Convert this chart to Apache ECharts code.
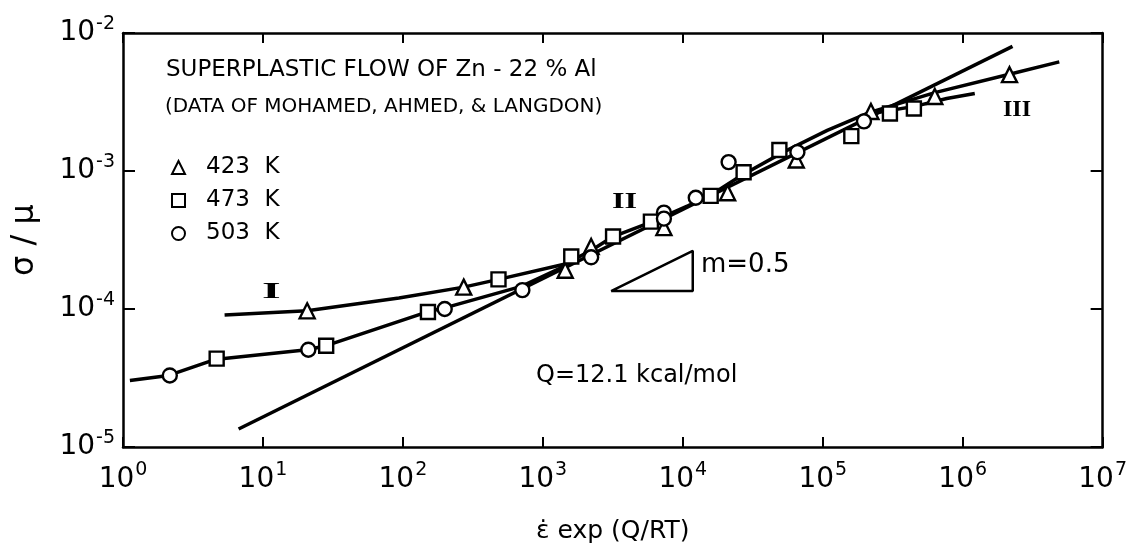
<!DOCTYPE html>
<html>
<head>
<meta charset="utf-8">
<script src="https://cdn.jsdelivr.net/npm/echarts@6/dist/echarts.min.js"></script>
<style>
html, body { margin: 0; background: #fff; }
#chart { width: 1130px; height: 549px; }
</style>
</head>
<body>
<div id="chart"></div>
<script>
// measured points, x = strain rate * exp(Q/RT), y = sigma / mu
var tri423 = [[20.7, 9.7e-5], [272, 1.44e-4], [1445, 1.91e-4], [2214, 2.84e-4], [7330, 3.89e-4],
	[20900, 6.95e-4], [64700, 1.20e-3], [221000, 2.70e-3], [632000, 3.47e-3], [2.16e6, 4.99e-3]];
var sq473 = [[4.67, 4.37e-5], [28.3, 5.42e-5], [151, 9.5e-5], [482, 1.64e-4], [1596, 2.40e-4],
	[3175, 3.35e-4], [5917, 4.30e-4], [15820, 6.6e-4], [27200, 9.8e-4], [49000, 1.42e-3],
	[160000, 1.79e-3], [302000, 2.61e-3], [448000, 2.84e-3]];
var circ503 = [[2.16, 3.30e-5], [21.1, 5.07e-5], [199, 1.0e-4], [714, 1.37e-4], [2214, 2.37e-4],
	[7330, 4.99e-4], [7330, 4.52e-4], [12380, 6.4e-4], [21250, 1.16e-3], [65900, 1.37e-3], [197000, 2.29e-3]];

// hand drawn curves
var curveUpper = [[5.32, 9.06e-5], [20.7, 9.7e-5], [93.7, 1.20e-4], [272, 1.44e-4], [482, 1.64e-4],
	[1422, 2.11e-4], [2213, 2.65e-4], [3175, 3.35e-4], [5821, 4.23e-4], [10860, 5.60e-4],
	[15570, 6.61e-4], [25860, 9.2e-4], [52360, 1.37e-3], [107700, 1.97e-3], [214300, 2.65e-3],
	[632000, 3.70e-3], [2.23e6, 5.07e-3], [4.9e6, 6.18e-3]];
var curveLower = [[1.12, 3.03e-5], [2.12, 3.30e-5], [4.52, 4.30e-5], [20.7, 5.07e-5], [28.3, 5.42e-5],
	[148, 9.5e-5], [199, 1.02e-4], [703, 1.46e-4], [1422, 2.04e-4]];
var curveBranch = [[244000, 2.65e-3], [455000, 2.94e-3], [769000, 3.35e-3], [1.22e6, 3.64e-3]];
var slopeLine = [[6.7, 1.35e-5], [2.27e6, 8.0e-3]];
var slopeTriangle = [[3074, 1.35e-4], [11780, 2.64e-4], [11780, 1.35e-4], [3074, 1.35e-4]];

var font = 'DejaVu Sans';

function powLabel(value) {
	var e = Math.round(Math.log10(value));
	return '{b|10}{s|' + e + '}';
}
var powRich = {
	b: { fontFamily: font, fontSize: 28, color: '#000' },
	s: { fontFamily: font, fontSize: 19, color: '#000', padding: [0, 0, 18, 1] }
};

function curve(data, width) {
	return {
		type: 'line',
		data: data,
		showSymbol: false,
		symbol: 'none',
		silent: true,
		lineStyle: { color: '#000', width: width },
		z: 1
	};
}

function points(name, symbol, size, data) {
	return {
		name: name,
		type: 'scatter',
		symbol: symbol,
		symbolSize: size,
		data: data,
		itemStyle: { color: '#fff', borderColor: '#000', borderWidth: 2.4, opacity: 1 },
		z: 3
	};
}

// roman numeral labels, stretched sideways like the typed originals
function roman(text, x, y, sx) {
	return {
		type: 'text', x: x, y: y, scaleX: sx,
		style: { text: text, font: 'bold 24px "Liberation Serif"', fill: '#000' }
	};
}

var chart = echarts.init(document.getElementById('chart'));
var option = {
	animation: false,
	grid: { left: 123, right: 26, top: 33, bottom: 99 },
	legend: {
		orient: 'vertical',
		left: 166,
		top: 151,
		itemWidth: 13,
		itemHeight: 13,
		itemGap: 10,
		formatter: function(n) { return n.replace(' ', '  '); },
		textStyle: { fontFamily: font, fontSize: 23, color: '#000', padding: [0, 0, 0, 16] },
		data: ['423 K', '473 K', '503 K']
	},
	xAxis: [{
		type: 'log',
		logBase: 10,
		min: 1,
		max: 1e7,
		position: 'bottom',
		name: 'ε̇ exp (Q/RT)',
		nameLocation: 'middle',
		nameGap: 72,
		nameTextStyle: { fontFamily: font, fontSize: 25, color: '#000' },
		axisLine: { lineStyle: { color: '#000', width: 2.5 } },
		axisTick: { inside: true, length: 10, lineStyle: { color: '#000', width: 2 } },
		minorTick: { show: false },
		splitLine: { show: false },
		axisLabel: { margin: 14, formatter: powLabel, rich: powRich }
	}, {
		type: 'log',
		logBase: 10,
		min: 1,
		max: 1e7,
		position: 'top',
		axisLine: { lineStyle: { color: '#000', width: 2.5 } },
		axisTick: { inside: true, length: 10, lineStyle: { color: '#000', width: 2 } },
		splitLine: { show: false },
		axisLabel: { show: false }
	}],
	yAxis: [{
		type: 'log',
		logBase: 10,
		min: 1e-5,
		max: 1e-2,
		position: 'left',
		name: 'σ / μ',
		nameLocation: 'middle',
		nameRotate: 90,
		nameGap: 82,
		nameTextStyle: { fontFamily: font, fontSize: 32, color: '#000' },
		axisLine: { lineStyle: { color: '#000', width: 2.5 } },
		axisTick: { inside: true, length: 12, lineStyle: { color: '#000', width: 2 } },
		splitLine: { show: false },
		axisLabel: { margin: 8, formatter: powLabel, rich: powRich }
	}, {
		type: 'log',
		logBase: 10,
		min: 1e-5,
		max: 1e-2,
		position: 'right',
		axisLine: { lineStyle: { color: '#000', width: 2.5 } },
		axisTick: { inside: true, length: 12, lineStyle: { color: '#000', width: 2 } },
		splitLine: { show: false },
		axisLabel: { show: false }
	}],
	series: [
		curve(curveUpper, 3.5),
		curve(curveLower, 3.5),
		curve(curveBranch, 3.5),
		curve(slopeLine, 3.5),
		curve(slopeTriangle, 2.5),
		points('423 K', 'triangle', 15, tri423),
		points('473 K', 'rect', 14, sq473),
		points('503 K', 'circle', 14, circ503)
	],
	graphic: [
		{ type: 'text', left: 166, top: 59, style: { text: 'SUPERPLASTIC FLOW OF Zn - 22 % Al', font: '23px "DejaVu Sans"', fill: '#000' } },
		{ type: 'text', left: 165, top: 97, style: { text: '(DATA OF MOHAMED, AHMED, & LANGDON)', font: '20px "DejaVu Sans"', fill: '#000' } },
		roman('I', 262, 280, 2.0),
		roman('II', 612, 190, 1.35),
		roman('III', 1003, 98, 1.0),
		{ type: 'text', left: 701, top: 252, style: { text: 'm=0.5', font: '26px "DejaVu Sans"', fill: '#000' } },
		{ type: 'text', left: 536, top: 364, style: { text: 'Q=12.1 kcal/mol', font: '24px "DejaVu Sans"', fill: '#000' } }
	]
};
chart.setOption(option);
</script>
</body>
</html>
